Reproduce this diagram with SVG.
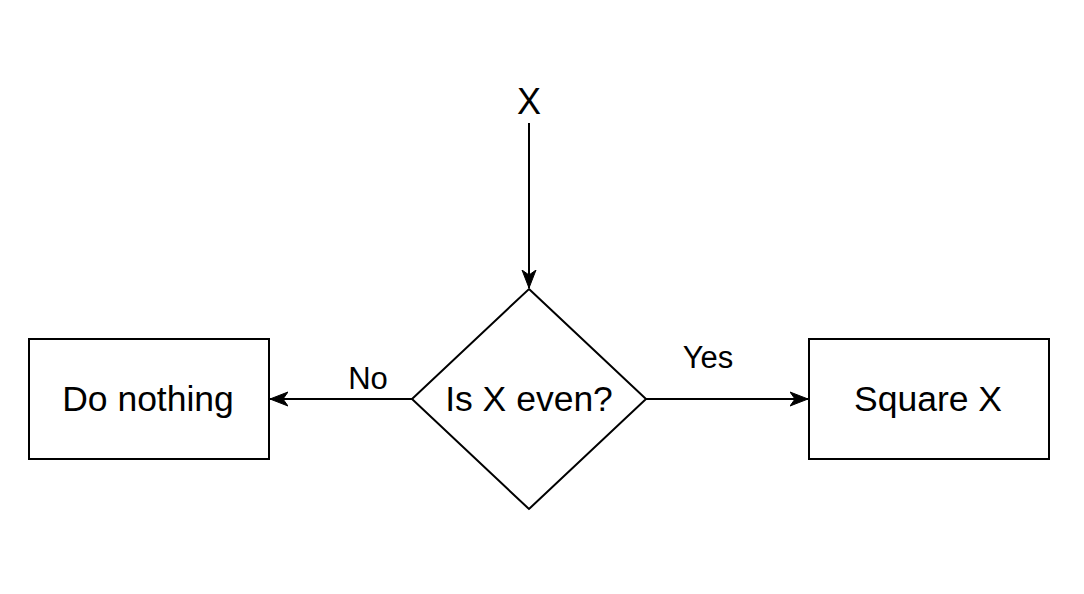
<svg xmlns="http://www.w3.org/2000/svg" width="1084" height="594" viewBox="0 0 1084 594">
  <style>
    .shape { fill: #ffffff; stroke: #000000; stroke-width: 2; }
    .edge { fill: none; stroke: #000000; stroke-width: 2; }
    .lbl { font-family: "Liberation Sans", Arial, Helvetica, sans-serif; fill: #000000; text-anchor: middle; }
    .node { font-size: 35.5px; }
    .elbl { font-size: 31px; }
  </style>
  <defs>
    <marker id="arrow" markerUnits="userSpaceOnUse" markerWidth="20" markerHeight="16" viewBox="0 0 20 16" refX="18" refY="8" orient="auto">
      <path d="M0,1 L18,8 L0,15 L5,8 Z" fill="#000000" stroke="#000000" stroke-width="1"/>
    </marker>
  </defs>
  <rect width="1084" height="594" fill="#ffffff"/>
  <g id="connectors">
    <line class="edge" x1="529" y1="123" x2="529" y2="288" marker-end="url(#arrow)"/>
    <line class="edge" x1="412" y1="399" x2="270" y2="399" marker-end="url(#arrow)"/>
    <line class="edge" x1="646" y1="399" x2="808" y2="399" marker-end="url(#arrow)"/>
    <text class="lbl elbl" x="368" y="389">No</text>
    <text class="lbl elbl" x="708" y="368">Yes</text>
  </g>
  <g id="input-x">
    <text class="lbl" x="529" y="114" style="font-size:36px">X</text>
  </g>
  <g id="decision">
    <polygon class="shape" points="529,289 646,399 529,509 412,399"/>
    <text class="lbl node" x="529" y="411">Is X even?</text>
  </g>
  <g id="do-nothing">
    <rect class="shape" x="29" y="339" width="240" height="120"/>
    <text class="lbl node" x="148" y="411">Do nothing</text>
  </g>
  <g id="square-x">
    <rect class="shape" x="809" y="339" width="240" height="120"/>
    <text class="lbl node" x="928" y="411">Square X</text>
  </g>
</svg>
